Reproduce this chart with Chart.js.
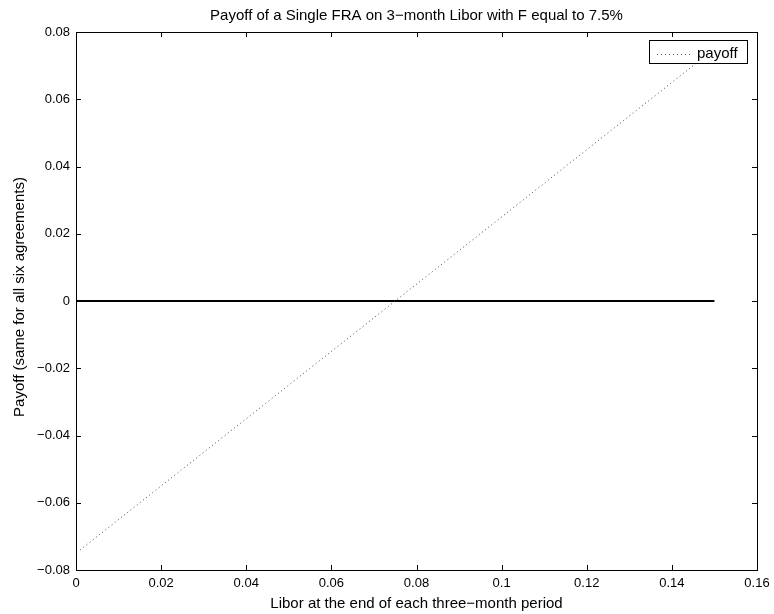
<!DOCTYPE html>
<html>
<head>
<meta charset="utf-8">
<script src="https://cdn.jsdelivr.net/npm/chart.js@4/dist/chart.umd.min.js"></script>
<style>
  html, body { margin: 0; padding: 0; background: #fff; }
  #wrap { width: 774px; height: 614px; }
</style>
</head>
<body>
<div id="wrap"><canvas id="chart" width="774" height="614"></canvas></div>
<script>
// payoff of the FRA vs Libor (dotted line)
const liborX = [0.001, 0.15];
const payoffY = [-0.074, 0.075];
// zero reference line
const zeroX = [0, 0.15];
const zeroY = [0, 0];

const xTickLabels = ["0", "0.02", "0.04", "0.06", "0.08", "0.1", "0.12", "0.14", "0.16"];
const yTickLabels = ["\u22120.08", "\u22120.06", "\u22120.04", "\u22120.02", "0", "0.02", "0.04", "0.06", "0.08"];

const titleText = "Payoff of a Single FRA on 3\u2212month Libor with F equal to 7.5%";
const xTitle = "Libor at the end of each three\u2212month period";
const yTitle = "Payoff (same for all six agreements)";

const FONT = "'Liberation Sans', Arial, Helvetica, sans-serif";

// MATLAB style box, inward ticks, titles and legend
const matlabAxes = {
  id: "matlabAxes",
  afterDraw(chart) {
    const { ctx, chartArea: a, scales: { x, y } } = chart;
    ctx.save();
    ctx.strokeStyle = "#000";
    ctx.lineWidth = 1;
    ctx.strokeRect(a.left + 0.5, a.top + 0.5, a.right - a.left, a.bottom - a.top);
    const len = 5;
    ctx.beginPath();
    x.ticks.forEach(t => {
      const px = Math.round(x.getPixelForValue(t.value)) + 0.5;
      ctx.moveTo(px, a.bottom); ctx.lineTo(px, a.bottom - len);
      ctx.moveTo(px, a.top); ctx.lineTo(px, a.top + len);
    });
    y.ticks.forEach(t => {
      const py = Math.round(y.getPixelForValue(t.value)) + 0.5;
      ctx.moveTo(a.left, py); ctx.lineTo(a.left + len, py);
      ctx.moveTo(a.right, py); ctx.lineTo(a.right - len, py);
    });
    ctx.stroke();

    // titles
    const cx = (a.left + a.right) / 2;
    const cy = (a.top + a.bottom) / 2;
    ctx.fillStyle = "#000";
    ctx.font = "15px " + FONT;
    ctx.textAlign = "center";
    ctx.textBaseline = "alphabetic";
    ctx.fillText(titleText, cx, 20);
    ctx.fillText(xTitle, cx, 608);
    ctx.save();
    ctx.translate(24, cy - 4);
    ctx.rotate(-Math.PI / 2);
    ctx.fillText(yTitle, 0, 0);
    ctx.restore();

    // legend
    const lx = 649, ly = 40, lw = 98, lh = 23;
    ctx.fillStyle = "#fff";
    ctx.fillRect(lx, ly, lw, lh);
    ctx.strokeStyle = "#000";
    ctx.strokeRect(lx + 0.5, ly + 0.5, lw, lh);
    ctx.strokeStyle = "#555";
    ctx.setLineDash([1, 3]);
    ctx.beginPath();
    ctx.moveTo(lx + 8, ly + 14.5); ctx.lineTo(lx + 41, ly + 14.5);
    ctx.stroke();
    ctx.setLineDash([]);
    ctx.fillStyle = "#000";
    ctx.textAlign = "left";
    ctx.fillText("payoff", lx + 48, ly + 18);
    ctx.restore();
  }
};

new Chart(document.getElementById("chart"), {
  type: "scatter",
  data: {
    datasets: [
      {
        label: "payoff",
        data: liborX.map((v, i) => ({ x: v, y: payoffY[i] })),
        showLine: true,
        borderColor: "#444",
        borderWidth: 1,
        borderDash: [1, 3],
        pointRadius: 0,
      },
      {
        label: "zero",
        data: zeroX.map((v, i) => ({ x: v, y: zeroY[i] })),
        showLine: true,
        borderColor: "#000",
        borderWidth: 2,
        pointRadius: 0,
      },
    ],
  },
  options: {
    responsive: false,
    animation: false,
    events: [],
    layout: { padding: { top: 32, right: 17, bottom: 0, left: 0 } },
    plugins: {
      legend: { display: false },
      tooltip: { enabled: false },
      title: { display: false },
    },
    scales: {
      x: {
        type: "linear",
        min: 0,
        max: 0.16,
        afterFit: s => {
          s.height = 44;
          s.paddingLeft = 0;
          s.paddingRight = 0;
        },
        afterBuildTicks: s => {
          s.ticks = xTickLabels.map((_, i) => ({ value: i * 0.02 }));
        },
        ticks: {
          color: "#000",
          padding: 6,
          maxRotation: 0,
          font: { family: FONT, size: 13 },
          callback: (v, i) => xTickLabels[i],
        },
        grid: { display: false, drawTicks: false },
        border: { display: false },
      },
      y: {
        type: "linear",
        min: -0.08,
        max: 0.08,
        afterFit: s => {
          s.width = 76;
          s.paddingTop = 0;
          s.paddingBottom = 0;
        },
        afterBuildTicks: s => {
          s.ticks = yTickLabels.map((_, i) => ({ value: -0.08 + i * 0.02 }));
        },
        ticks: {
          color: "#000",
          padding: 6,
          font: { family: FONT, size: 13 },
          callback: (v, i) => yTickLabels[i],
        },
        grid: { display: false, drawTicks: false },
        border: { display: false },
      },
    },
  },
  plugins: [matlabAxes],
});
</script>
</body>
</html>
